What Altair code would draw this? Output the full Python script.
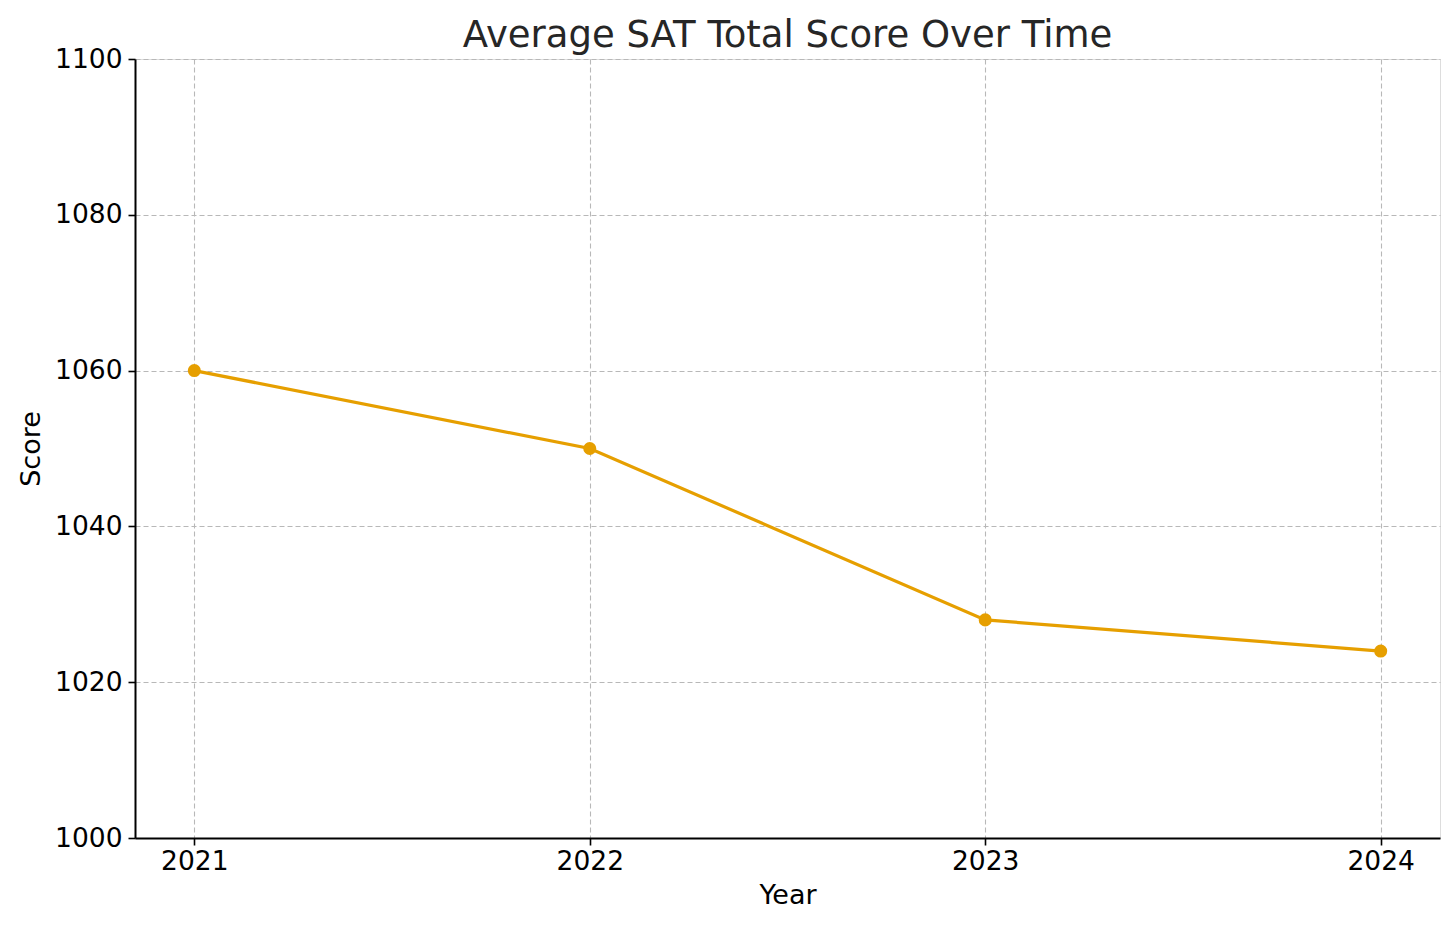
import altair as alt
import pandas as pd

years = [2021, 2022, 2023, 2024]
scores = [1060, 1050, 1028, 1024]
y_ticks = [1000, 1020, 1040, 1060, 1080, 1100]

df = pd.DataFrame({"Year": years, "Score": scores})

FONT = "DejaVu Sans"
ORANGE = "#E69F00"
GRID = "#b8b8b8"

base = alt.Chart(df).encode(
    x=alt.X(
        "Year:Q",
        scale=alt.Scale(domain=[2020.85, 2024.15], nice=False, zero=False),
        axis=alt.Axis(
            values=years, format="d", title="Year",
            grid=True, gridDash=[5, 3], gridColor=GRID, gridWidth=1.1,
            domainColor="black", domainWidth=2,
            tickColor="black", tickSize=7, tickWidth=1.6,
            labelFont=FONT, labelFontSize=26.5, labelColor="black", labelPadding=3,
            titleFont=FONT, titleFontSize=27, titleFontWeight="normal",
            titleColor="black", titlePadding=8,
        ),
    ),
    y=alt.Y(
        "Score:Q",
        scale=alt.Scale(domain=[1000, 1100], nice=False, zero=False),
        axis=alt.Axis(
            values=y_ticks, format="d", title="Score",
            grid=True, gridDash=[5, 3], gridColor=GRID, gridWidth=1.1,
            domainColor="black", domainWidth=2,
            tickColor="black", tickSize=7, tickWidth=1.6,
            labelFont=FONT, labelFontSize=26.5, labelColor="black", labelPadding=6,
            titleFont=FONT, titleFontSize=27, titleFontWeight="normal",
            titleColor="black", titlePadding=9,
        ),
    ),
)

line = base.mark_line(color=ORANGE, strokeWidth=3.2)
points = base.mark_circle(color=ORANGE, opacity=1, size=170)

chart = (
    (line + points)
    .properties(
        width=1305,
        height=779,
        title=alt.TitleParams(
            "Average SAT Total Score Over Time",
            font=FONT, fontSize=37, fontWeight="normal", color="#262626",
            anchor="middle", offset=-9,
        ),
        autosize=alt.AutoSizeParams(type="none"),
        padding={"left": 127, "top": 51, "right": 8, "bottom": 80},
    )
    .configure_view(stroke=None)
    .configure(background="white")
)

chart.save("out.html", embed_options={"renderer": "svg", "actions": False})
